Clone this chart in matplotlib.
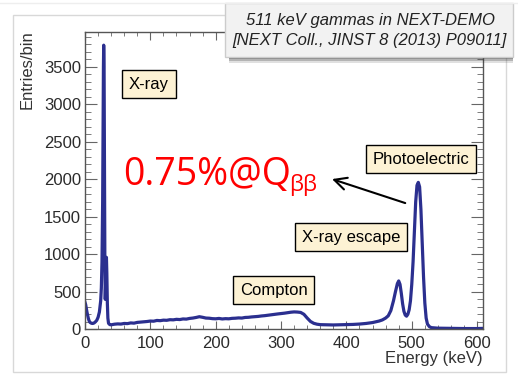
import matplotlib
matplotlib.use("Agg")
import matplotlib.pyplot as plt
from matplotlib.patches import Rectangle
from matplotlib.ticker import MultipleLocator

# spectrum (energy in keV, entries per bin)
energy = [0, 1, 2, 3, 4, 5, 6, 7, 8, 10, 12, 14, 16, 18, 20, 22, 24, 25, 26,
          27, 27.6, 28.2, 28.6, 29.2, 29.8, 30.4, 31.0, 31.6, 32.2, 32.8, 33.4,
          34.2, 35, 36, 38, 40, 45, 50, 55, 60, 65, 70, 75, 80, 85, 90, 95, 100,
          105, 110, 115, 120, 125, 130, 135, 140, 145, 150, 155, 160, 165, 170,
          175, 180, 185, 190, 195, 200, 205, 210, 215, 220, 225, 230, 235, 240,
          245, 250, 255, 260, 265, 270, 275, 280, 285, 290, 295, 300, 305, 310,
          315, 320, 325, 330, 335, 340, 345, 350, 355, 360, 370, 380, 390, 400,
          410, 420, 430, 440, 450, 455, 460, 464, 468, 472, 475, 478, 480, 482,
          484, 486, 488, 490, 492, 494, 496, 498, 500, 502, 504, 506, 508, 510,
          512, 514, 516, 518, 520, 522, 524, 527, 530, 540, 560, 580, 600, 608]
counts = [360, 330, 280, 230, 190, 150, 120, 100, 90, 80, 78, 85, 100, 120, 160,
          230, 380, 550, 900, 1700, 2700, 3500, 3790, 3500, 2300, 900, 400,
          600, 900, 960, 750, 350, 150, 80, 62, 60, 68, 72, 70, 78, 76, 85, 82,
          92, 96, 100, 104, 110, 108, 118, 115, 122, 120, 128, 126, 133, 130,
          138, 136, 145, 150, 158, 168, 160, 150, 148, 142, 140, 145, 138, 142,
          140, 146, 148, 152, 150, 158, 160, 165, 168, 172, 178, 182, 188, 195,
          200, 205, 210, 215, 222, 228, 232, 230, 225, 200, 150, 105, 80, 68, 62,
          60, 58, 60, 62, 65, 70, 78, 90, 110, 125, 150, 180, 250, 380, 500, 610,
          645, 600, 480, 340, 240, 190, 175, 200, 260, 380, 600, 900, 1300, 1700,
          1920, 1960, 1900, 1600, 1150, 700, 350, 150, 70, 35, 22, 15, 12, 10, 10,
          12]

W, H = 518, 375


def fx(x):
    return x / W


def fy(y):
    return 1 - y / H


plt.rcParams['font.family'] = ['Liberation Sans', 'DejaVu Sans']

fig = plt.figure(figsize=(W / 100, H / 100), dpi=100)

# outer light frame and faint top line
fig.patches.append(Rectangle((fx(13), fy(372)), fx(506) - fx(13), fy(15) - fy(372),
                             transform=fig.transFigure, fill=False,
                             edgecolor='#d8d8d8', lw=1))
fig.add_artist(plt.Line2D([0, 1], [fy(3), fy(3)], transform=fig.transFigure,
                          color='#eeeeee', lw=1))

ax = fig.add_axes([fx(85), fy(329.3), fx(483) - fx(85), fy(31.7) - fy(329.3)])
ax.plot(energy, counts, color='#2b2f8f', lw=2.3)
ax.set_xlim(0, 609)
ax.set_ylim(0, 3970)

ax.xaxis.set_major_locator(MultipleLocator(100))
ax.xaxis.set_minor_locator(MultipleLocator(20))
ax.yaxis.set_major_locator(MultipleLocator(500))
ax.yaxis.set_minor_locator(MultipleLocator(100))
for s in ax.spines.values():
    s.set_color('#555555')
    s.set_linewidth(1.0)
ax.tick_params(which='both', direction='in', top=True, right=True,
               color='#666666', labelsize=12, labelcolor='#2b2b2b')
ax.tick_params(axis='x', which='major', length=6, pad=5)
ax.tick_params(axis='x', which='minor', length=3)
ax.tick_params(axis='y', which='major', length=8.5, pad=3)
ax.tick_params(axis='y', which='minor', length=4.3)

fig.text(fx(27), fy(30), 'Entries/bin', rotation=90, ha='center', va='top',
         fontsize=12, color='#333333')
fig.text(fx(483), fy(358), 'Energy (keV)', ha='right', va='center',
         fontsize=12, color='#333333')

box = dict(boxstyle='square,pad=0.4', facecolor='#fdf2d4', edgecolor='black', lw=1)
labels = [('X-ray', 98, 3270), ('Photoelectric', 514, 2270),
          ('X-ray escape', 407, 1230), ('Compton', 289, 524)]
for txt, xv, yv in labels:
    ax.text(xv, yv, txt, ha='center', va='center', fontsize=12, bbox=box)

ax.text(58, 1924, '0.75%@Q', color='red', fontsize=27, family='Open Sans',
        ha='left', va='baseline')
ax.text(313, 1844, 'ββ', color='red', fontsize=16, family='Open Sans',
        ha='left', va='baseline')
ax.annotate('', xy=(378, 2004), xytext=(490, 1684),
            arrowprops=dict(arrowstyle='->', color='black', lw=1.5,
                            mutation_scale=22, shrinkA=0, shrinkB=0))

# title box with drop shadow
for k, a in [(6, 0.15), (4, 0.25), (2, 0.35)]:
    fig.patches.append(Rectangle((fx(229), fy(57 + k)), fx(513) - fx(229), fy(57) - fy(57 + k + 4),
                                 transform=fig.transFigure, facecolor='#333333',
                                 edgecolor='none', alpha=a))
fig.patches.append(Rectangle((fx(225), fy(57)), fx(513) - fx(225), fy(3) - fy(57),
                             transform=fig.transFigure, facecolor='#f2f2f2',
                             edgecolor='#cccccc', lw=1))
fig.text(fx(370), fy(21), '511 keV gammas in NEXT-DEMO', ha='center', va='center',
         fontsize=12, style='italic', color='#222222')
fig.text(fx(370), fy(40), '[NEXT Coll., JINST 8 (2013) P09011]', ha='center',
         va='center', fontsize=12, style='italic', color='#222222')

fig.savefig('out.png', dpi=100)
